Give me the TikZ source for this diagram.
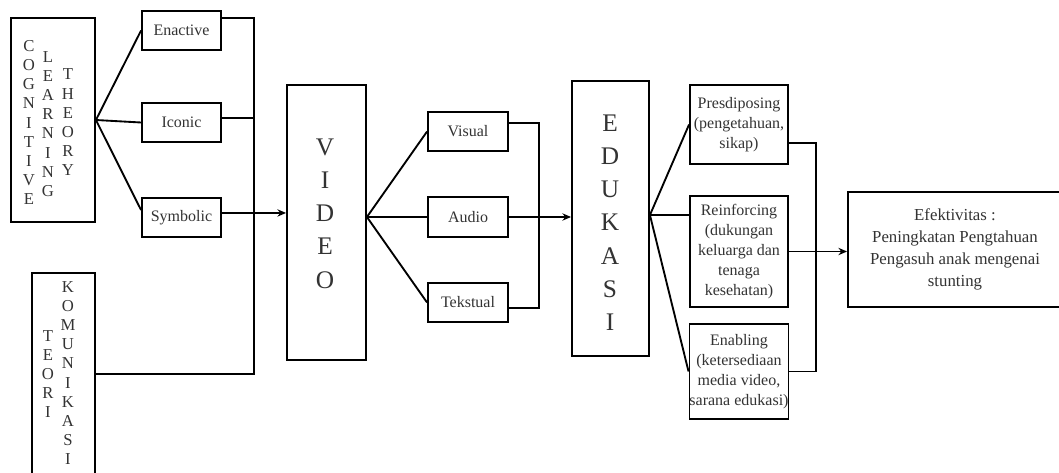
\documentclass[tikz,border=0pt]{standalone}
\usepackage{fontspec}
\setmainfont{Liberation Serif}
\usetikzlibrary{arrows.meta,calc}
\begin{document}
\begin{tikzpicture}[x=0.75pt,y=-0.75pt,
  box/.style={draw=black,line width=1.4pt,inner sep=0pt,align=center,text=black!80},
  conn/.style={line width=1.4pt,line join=miter},
  arr/.style={conn,-{Stealth[length=6.5pt,width=5.5pt]}},
  letters/.style={align=center,inner sep=0pt,text=black!80,font=\fontsize{12.5}{14.4}\selectfont},
  bigletters/.style={align=center,inner sep=0pt,text=black!80,font=\fontsize{19}{24.9}\selectfont},
  lbl/.style={font=\fontsize{12}{15}\selectfont},
  small/.style={box,lbl,minimum width=59.25pt,minimum height=29.25pt},
  factor/.style={box,lbl,minimum width=73.5pt}]
\useasboundingbox (0,0) rectangle (1059,472);
\fill[white] (0,0) rectangle (1059,472);

% left theory boxes
\node[box,minimum width=63pt,minimum height=153pt] (cog) at (53,120) {};
\node[letters] (cogA) at (29,122.5) {C\\O\\G\\N\\I\\T\\I\\V\\E};
\node[letters] (cogB) at (48,124) {L\\E\\A\\R\\N\\I\\N\\G};
\node[letters] (cogC) at (68,122.5) {T\\H\\E\\O\\R\\Y};

\node[box,minimum width=47.25pt,minimum height=151.5pt] (teori) at (63.5,374) {};
\node[letters] (teA) at (48,374) {T\\E\\O\\R\\I};
\node[letters] (teB) at (68,373) {K\\O\\M\\U\\N\\I\\K\\A\\S\\I};

% Bruner modes
\node[small] (enact) at (181.5,30.5) {Enactive};
\node[small] (iconic) at (181.5,122.5) {Iconic};
\node[small] (symb) at (181.5,217.5) {Symbolic};

% VIDEO
\node[box,minimum width=59.25pt,minimum height=206.25pt] (video) at (326.5,222.5) {};
\node[bigletters] (vidtxt) at (325,213.5) {V\\I\\D\\E\\O};

\node[box,lbl,minimum width=60pt,minimum height=29.25pt] (visual) at (468,131.5) {Visual};
\node[box,lbl,minimum width=60pt,minimum height=30pt] (audio) at (468,217) {Audio};
\node[box,lbl,minimum width=60pt,minimum height=29.25pt] (tekst) at (468,302.5) {Tekstual};

% EDUKASI
\node[box,minimum width=57.75pt,minimum height=206.25pt] (eduk) at (610.5,218.5) {};
\node[bigletters] (edutxt) at (610,222.5) {E\\D\\U\\K\\A\\S\\I};

\node[factor,minimum height=59.25pt] (pres) at (739,124.5) {Presdiposing\\(pengetahuan,\\sikap)};
\node[factor,minimum height=83.25pt] (reinf) at (739,251.5) {Reinforcing\\(dukungan\\keluarga dan\\tenaga\\kesehatan)};
\node[factor,minimum height=71.25pt] (enab) at (739,371.5) {Enabling\\(ketersediaan\\media video,\\sarana edukasi)};

\node[box,minimum width=160.5pt,minimum height=86.25pt,font=\fontsize{12.6}{16.5}\selectfont] (efek) at (955,249.5) {Efektivitas :\\Peningkatan Pengtahuan\\Pengasuh anak mengenai\\stunting};

% helper coordinates
\coordinate (busA) at (254,0);
\coordinate (busB) at (539,0);
\coordinate (busC) at (816,0);
\coordinate (en1) at ([yshift=-6pt]enact.north east);
\coordinate (ic1) at ([yshift=3.4pt]iconic.east);
\coordinate (sy1) at ([yshift=3.4pt]symb.east);
\coordinate (sy0) at ([yshift=5.6pt]symb.west);
\coordinate (vf) at (video.east |- audio.west);
\coordinate (vis1) at ([yshift=6.4pt]visual.east);
\coordinate (tek1) at ([yshift=-4pt]tekst.east);
\coordinate (ef) at ([yshift=2.6pt]eduk.east);
\coordinate (pr1) at ([yshift=-13.9pt]pres.east);

% connectors: cognitive fan
\draw[conn] (enact.west) -- (cog.east) -- (sy0);
\draw[conn] (cog.east) -- (iconic.west);
% bus A
\draw[conn] (en1) -| (teori.east -| busA) -- (teori.east);
\draw[conn] (ic1) -- (ic1 -| busA);
\draw[arr] (sy1) -- (sy1 -| video.west);

% video fan
\draw[conn] (visual.west) -- (vf) -- (tekst.west);
\draw[conn] (vf) -- (audio.west);
% bus B
\draw[conn] (vis1) -| (tek1 -| busB) -- (tek1);
\draw[arr] (audio.east) -- (audio.east -| eduk.west);

% edukasi fan
\draw[conn] (pres.west) -- (ef) -- (enab.west);
\draw[conn] (ef) -- (ef -| reinf.west);
% bus C
\draw[conn] (pr1) -| (enab.east -| busC) -- (enab.east);
\draw[arr] (reinf.east) -- (reinf.east -| efek.west);
\end{tikzpicture}
\end{document}
